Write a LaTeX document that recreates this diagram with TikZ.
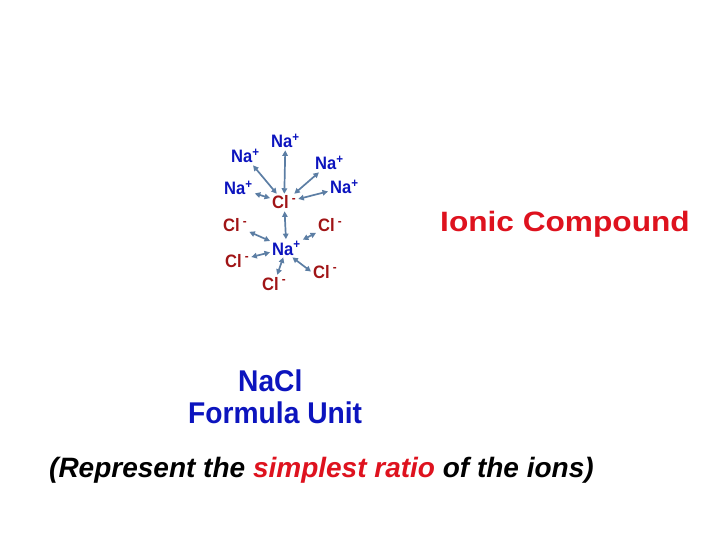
\documentclass[tikz,border=0pt]{standalone}
\usepackage{fontspec}
\setmainfont{Liberation Sans}
\newfontfamily\ionfont[FakeStretch=0.92]{Liberation Sans}
\newfontfamily\titlefont[FakeStretch=1.13]{Liberation Sans}
\newfontfamily\unitfont[FakeStretch=0.94]{Liberation Sans}
\usetikzlibrary{arrows.meta}
\definecolor{naBlue}{RGB}{12,20,190}
\definecolor{clRed}{RGB}{160,20,22}
\definecolor{bondGray}{RGB}{92,126,164}
\definecolor{titleRed}{RGB}{222,18,30}
\begin{document}
\begin{tikzpicture}[x=1pt, y=-1pt,
    na/.style={text=naBlue, font=\fontsize{18}{20}\ionfont\bfseries, inner sep=2pt, anchor=base west},
    cl/.style={text=clRed, font=\fontsize{18}{20}\ionfont\bfseries, inner sep=2pt, anchor=base west},
    bond/.style={bondGray, line width=1.7pt, {Triangle[length=5.5pt,width=5.5pt]}-{Triangle[length=5.5pt,width=5.5pt]}}]
            \useasboundingbox (0,0) rectangle (720,540);

            % Ions around the central chloride
            \node[na] (naT) at (269,148) {Na\textsuperscript{+}};
            \node[na] (naUL) at (229,163) {Na\textsuperscript{+}};
            \node[na] (naUR) at (313,170) {Na\textsuperscript{+}};
            \node[na] (naL) at (222,195) {Na\textsuperscript{+}};
            \node[na] (naR) at (328,194) {Na\textsuperscript{+}};
            \node[cl] (clC) at (270,209) {Cl\,\textsuperscript{-}};

            % Ions around the central sodium
            \node[cl] (clL) at (221,232) {Cl\,\textsuperscript{-}};
            \node[cl] (clR) at (316,232) {Cl\,\textsuperscript{-}};
            \node[na] (naC) at (270,255) {Na\textsuperscript{+}};
            \node[cl] (clLL) at (223,267) {Cl\,\textsuperscript{-}};
            \node[cl] (clB) at (260,290) {Cl\,\textsuperscript{-}};
            \node[cl] (clLR) at (311,278) {Cl\,\textsuperscript{-}};

            % Bonds
            \draw[bond] (clC) -- (naT);
            \draw[bond] (clC) -- (naUL);
            \draw[bond] (clC) -- (naUR);
            \draw[bond] (clC) -- (naL);
            \draw[bond] (clC) -- (naR);
            \draw[bond] (clC) -- (naC);
            \draw[bond] (naC) -- (clL);
            \draw[bond] (naC) -- (clR);
            \draw[bond] (naC) -- (clLL);
            \draw[bond] (naC) -- (clB);
            \draw[bond] ([xshift=6pt]naC.south) -- (clLR.west);

            % Labels
            \node[text=titleRed, font=\fontsize{28}{32}\titlefont\bfseries, inner sep=0pt, anchor=base west] (title) at (440,231) {Ionic Compound};
            \node[text=naBlue, font=\fontsize{30}{34}\unitfont\bfseries, inner sep=0pt, anchor=base west] (formula) at (238,391) {NaCl};
            \node[text=naBlue, font=\fontsize{30}{34}\unitfont\bfseries, inner sep=0pt, anchor=base west] (unit) at (188,423) {Formula Unit};
            \node[font=\fontsize{28}{32}\selectfont\bfseries\itshape, inner sep=0pt, anchor=base west] (ratio) at (49,477) {(Represent the \textcolor{titleRed}{simplest ratio} of the ions)};
        \end{tikzpicture}
\end{document}
